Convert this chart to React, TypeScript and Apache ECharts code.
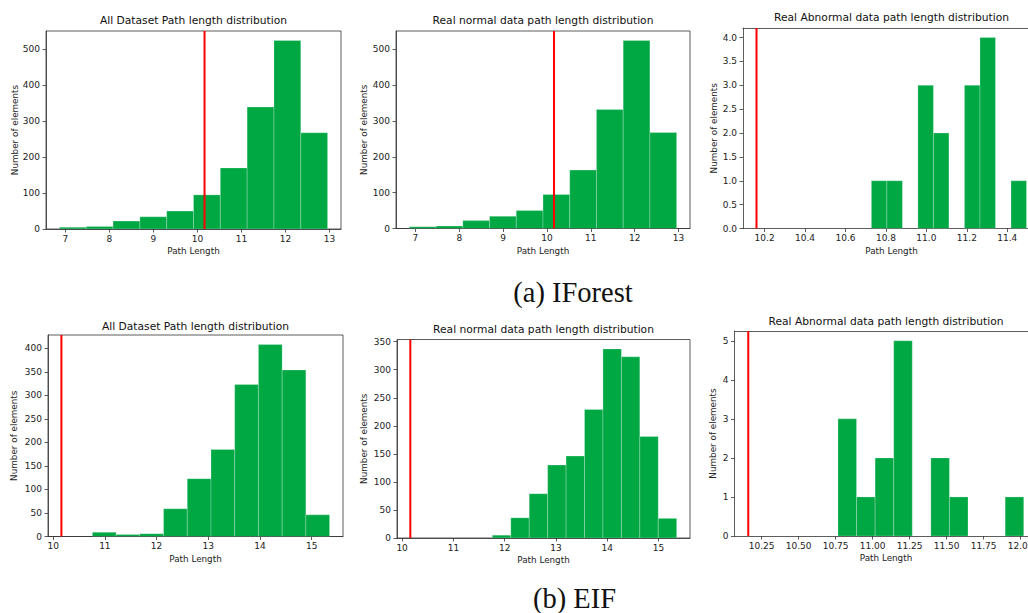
import React, { useEffect, useRef } from "react";
import * as echarts from "echarts";

const GREEN = "#00a844";
const THRESHOLD = 10.16;

// ---- histogram data (bin range [lo, hi], counts) ----
const ifAllRange = [6.863, 12.956];
const ifAllCounts = [5, 7, 22, 34, 50, 95, 170, 340, 525, 268];
const ifNormalRange = [6.863, 12.956];
const ifNormalCounts = [5, 7, 22, 34, 50, 95, 163, 332, 525, 268];
const ifAbnRange = [10.728, 11.495];
const ifAbnCounts = [1, 1, 0, 3, 2, 0, 3, 4, 0, 1];

const eifAllRange = [10.759, 15.345];
const eifAllCounts = [9, 4, 6, 59, 123, 185, 323, 408, 354, 46];
const eifNormalRange = [11.76, 15.356];
const eifNormalCounts = [5, 36, 79, 130, 146, 229, 337, 323, 181, 35];
const eifAbnRange = [10.766, 12.021];
const eifAbnCounts = [3, 1, 2, 5, 0, 2, 1, 0, 0, 1];

// ---- tick values ----
const xTicksIfFull = [7, 8, 9, 10, 11, 12, 13];
const yTicksIfFull = [0, 100, 200, 300, 400, 500];
const xTicksIfAbn = [10.2, 10.4, 10.6, 10.8, 11.0, 11.2, 11.4];
const yTicksIfAbn = [0, 0.5, 1, 1.5, 2, 2.5, 3, 3.5, 4];
const xTicksEif = [10, 11, 12, 13, 14, 15];
const yTicksEifAll = [0, 50, 100, 150, 200, 250, 300, 350, 400];
const yTicksEifNormal = [0, 50, 100, 150, 200, 250, 300, 350];
const xTicksEifAbn = [10.25, 10.5, 10.75, 11.0, 11.25, 11.5, 11.75, 12.0];
const yTicksEifAbn = [0, 1, 2, 3, 4, 5];

const TITLE_ALL = "All Dataset Path length distribution";
const TITLE_NORMAL = "Real normal data path length distribution";
const TITLE_ABN = "Real Abnormal data path length distribution";
const X_NAME = "Path Length";
const Y_NAME = "Number of elements";
const CAPTION_A = "(a) IForest";
const CAPTION_B = "(b) EIF";

const CANVAS_W = 1028;

const panels = [
  { title: TITLE_ALL, range: ifAllRange, counts: ifAllCounts, xt: xTicksIfFull, yt: yTicksIfFull, xd: 0, yd: 0,
    grid: { left: 46, top: 31, width: 295, height: 198 }, titleY: 20, yNameX: 14.5 },
  { title: TITLE_NORMAL, range: ifNormalRange, counts: ifNormalCounts, xt: xTicksIfFull, yt: yTicksIfFull, xd: 0, yd: 0,
    grid: { left: 396, top: 31, width: 294, height: 197.5 }, titleY: 20, yNameX: 364 },
  { title: TITLE_ABN, range: ifAbnRange, counts: ifAbnCounts, xt: xTicksIfAbn, yt: yTicksIfAbn, xd: 1, yd: 1,
    grid: { left: 743, top: 28, width: 297, height: 200.5 }, titleY: 17.5, yNameX: 714 },
  { title: TITLE_ALL, range: eifAllRange, counts: eifAllCounts, xt: xTicksEif, yt: yTicksEifAll, xd: 0, yd: 0,
    grid: { left: 48, top: 335, width: 295, height: 201.5 }, titleY: 326.5, yNameX: 13.5 },
  { title: TITLE_NORMAL, range: eifNormalRange, counts: eifNormalCounts, xt: xTicksEif, yt: yTicksEifNormal, xd: 0, yd: 0,
    grid: { left: 397, top: 339.5, width: 293, height: 198.5 }, titleY: 329.5, yNameX: 363.5 },
  { title: TITLE_ABN, range: eifAbnRange, counts: eifAbnCounts, xt: xTicksEifAbn, yt: yTicksEifAbn, xd: 2, yd: 0,
    grid: { left: 734.5, top: 331, width: 303, height: 205 }, titleY: 321, yNameX: 712.5 },
];

const AXIS_COLOR = "#333";
const TEXT_COLOR = "#222";
const SANS = '"DejaVu Sans", sans-serif';
const SERIF = '"Liberation Serif", serif';

export default function App() {
  const ref = useRef<HTMLDivElement>(null);
  useEffect(() => {
    if (!ref.current) return;
    const chart = echarts.init(ref.current, undefined, { renderer: "svg" });

    const grids: any[] = [];
    const xAxes: any[] = [];
    const yAxes: any[] = [];
    const extraX: any[] = [];
    const series: any[] = [];
    const graphics: any[] = [];
    const lineStyle = { color: AXIS_COLOR, width: 0.8 };

    panels.forEach((p, i) => {
      const [lo, hi] = p.range;
      const n = p.counts.length;
      const w = (hi - lo) / n;
      const dMin = Math.min(lo, THRESHOLD);
      const dMax = Math.max(hi, THRESHOLD);
      const span = dMax - dMin;
      const xMin = dMin - 0.05 * span;
      const xMaxFull = dMax + 0.05 * span;
      const yMax = Math.max(...p.counts) * 1.05;

      const g = p.grid;
      const visibleW = Math.min(g.width, CANVAS_W - g.left);
      const clipped = visibleW < g.width;
      const xMax = xMin + ((xMaxFull - xMin) * visibleW) / g.width;

      grids.push({
        left: g.left, top: g.top, width: visibleW, height: g.height,
        containLabel: false, outerBoundsMode: "none",
        show: !clipped, borderColor: AXIS_COLOR, borderWidth: 0.8, backgroundColor: "transparent",
      });
      xAxes.push({
        type: "value", gridIndex: i, min: xMin, max: xMax,
        axisLine: { show: true, onZero: false, lineStyle },
        axisTick: { show: true, length: 3.5, customValues: p.xt, lineStyle },
        axisLabel: { customValues: p.xt, formatter: (v: number) => Number(v).toFixed(p.xd), fontSize: 9, color: TEXT_COLOR, margin: 5, fontFamily: SANS },
        splitLine: { show: false },
      });
      if (clipped) {
        extraX.push({
          type: "value", gridIndex: i, position: "top", min: xMin, max: xMax,
          axisLine: { show: true, onZero: false, lineStyle },
          axisTick: { show: false }, axisLabel: { show: false }, splitLine: { show: false },
        });
      }
      yAxes.push({
        type: "value", gridIndex: i, min: 0, max: yMax,
        axisLine: { show: true, lineStyle },
        axisTick: { show: true, length: 3.5, customValues: p.yt, lineStyle },
        axisLabel: { customValues: p.yt, formatter: (v: number) => Number(v).toFixed(p.yd), fontSize: 9, color: TEXT_COLOR, margin: 6, fontFamily: SANS },
        splitLine: { show: false },
      });

      const data = p.counts
        .map((c, k) => [lo + k * w, lo + (k + 1) * w, c])
        .filter((d) => d[2] > 0);

      series.push({
        type: "custom", xAxisIndex: i, yAxisIndex: i, clip: true,
        encode: { x: [0, 1], y: 2 },
        data,
        renderItem: (_params: any, api: any) => {
          const tl = api.coord([api.value(0), api.value(2)]);
          const br = api.coord([api.value(1), 0]);
          return {
            type: "rect",
            shape: { x: tl[0], y: tl[1], width: br[0] - tl[0], height: br[1] - tl[1] },
            style: { fill: GREEN, stroke: "rgba(255,255,255,0.4)", lineWidth: 0.6 },
          };
        },
      });
      series.push({
        type: "line", xAxisIndex: i, yAxisIndex: i, z: 5,
        symbol: "none", showSymbol: false,
        data: [[THRESHOLD, 0], [THRESHOLD, yMax]],
        lineStyle: { color: "#ff0000", width: 2 },
      });

      const cx = g.left + g.width / 2;
      graphics.push({
        type: "text", x: cx, y: p.titleY,
        style: { text: p.title, fill: "#111", font: `10.7px ${SANS}`, align: "center", verticalAlign: "middle", textAlign: "center", textVerticalAlign: "middle" },
      });
      graphics.push({
        type: "text", x: cx, y: g.top + g.height + 22,
        style: { text: X_NAME, fill: TEXT_COLOR, font: `8.8px ${SANS}`, align: "center", verticalAlign: "middle", textAlign: "center", textVerticalAlign: "middle" },
      });
      graphics.push({
        type: "text", x: p.yNameX, y: g.top + g.height / 2, rotation: Math.PI / 2,
        style: { text: Y_NAME, fill: TEXT_COLOR, font: `8.8px ${SANS}`, align: "center", verticalAlign: "middle", textAlign: "center", textVerticalAlign: "middle" },
      });
    });

    graphics.push({
      type: "text", x: 573, y: 292,
      style: { text: CAPTION_A, fill: "#111", font: `28.5px ${SERIF}`, align: "center", verticalAlign: "middle", textAlign: "center", textVerticalAlign: "middle" },
    });
    graphics.push({
      type: "text", x: 574.5, y: 598,
      style: { text: CAPTION_B, fill: "#111", font: `28.5px ${SERIF}`, align: "center", verticalAlign: "middle", textAlign: "center", textVerticalAlign: "middle" },
    });

    chart.setOption({
      animation: false,
      backgroundColor: "#ffffff",
      grid: grids,
      xAxis: [...xAxes, ...extraX],
      yAxis: yAxes,
      series,
      graphic: { elements: graphics },
    });
    return () => chart.dispose();
  }, []);

  return (
    <div
      ref={ref}
      style={{ position: "absolute", left: 0, top: 0, width: CANVAS_W, height: 613, background: "#fff" }}
    />
  );
}
